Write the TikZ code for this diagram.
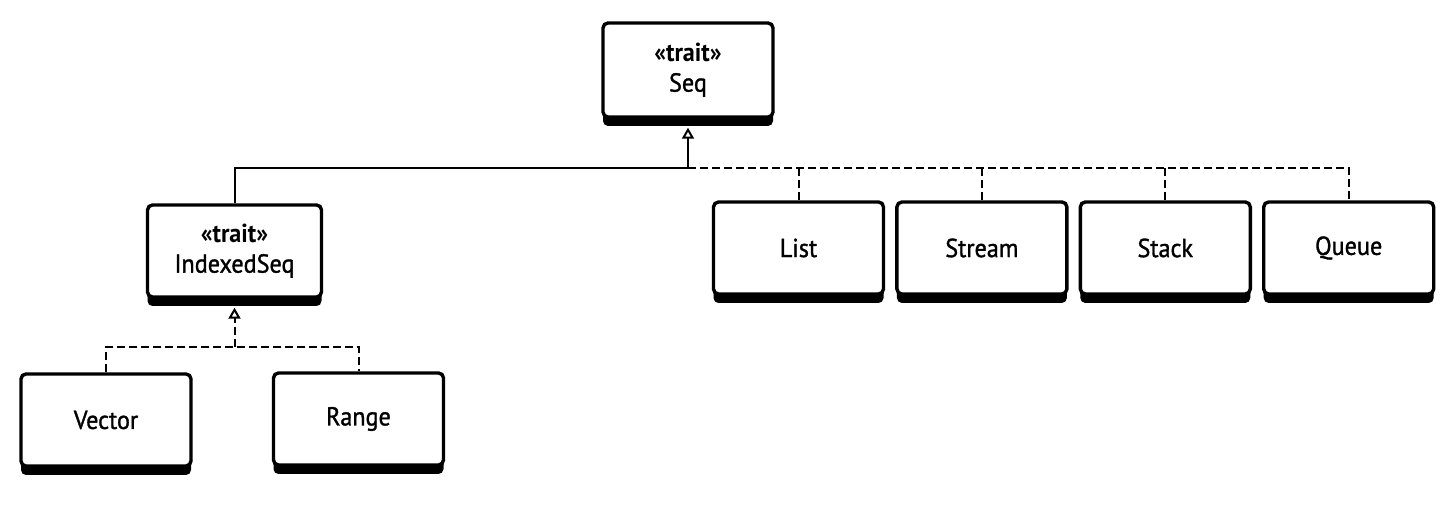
\documentclass[tikz,border=0pt]{standalone}
\usepackage{fontspec}
\setmainfont{PT Sans}
\newfontfamily\boxfont{PT Sans}[UprightFeatures={FakeBold=1.2}, FakeStretch=0.93]
\usetikzlibrary{positioning,arrows.meta,shadows}

\begin{document}
\begin{tikzpicture}
        [x=0.5pt, y=-0.5pt, line width=1pt,
         block/.style={draw, fill=white, line width=1.7pt, rounded corners=2.5pt,
                       minimum width=85pt, minimum height=46pt, align=center,
                       font=\boxfont\fontsize{13}{15}\selectfont,
                       drop shadow={shadow xshift=0pt, shadow yshift=-4.5pt, fill=black, opacity=1}},
         impl/.style={dash pattern=on 4pt off 2pt},
         inherit/.style={-{Triangle[open, length=5.5pt, width=6pt]}, shorten >=4.5pt}]
        \useasboundingbox (0,0) rectangle (1447,506);

        \node [block, minimum height=47pt] (seq)    at (688,70)  {\textbf{«trait»}\\Seq};
        \node [block, minimum width=87pt]  (iseq)   at (234.5,251) {\textbf{«trait»}\\IndexedSeq};

        \node [block] (vector) at (106,420)   {Vector};
        \node [block] (range)  at (358.5,419) {Range};

        \node [block]                     (list)   at (798.5,248) {List};
        \node [block] [right=5pt of list]   (stream) {Stream};
        \node [block] [right=5pt of stream] (stack)  {Stack};
        \node [block] [right=5pt of stack]  (queue)  {Queue};

        \coordinate (j) at (seq.south |- 0,168);
        \coordinate (k) at (iseq.south |- 0,347);

        \draw (iseq.north) |- (j);
        \draw [inherit] (j) -- (seq.south);
        \draw [impl] (j) -| (queue.north);
        \foreach \n in {list,stream,stack}
            \draw [impl] (\n.north) -- (\n.north |- j);

        \draw [impl] (vector.north) |- (k) -| (range.north);
        \draw [impl, inherit] (k) -- (iseq.south);
\end{tikzpicture}
\end{document}
